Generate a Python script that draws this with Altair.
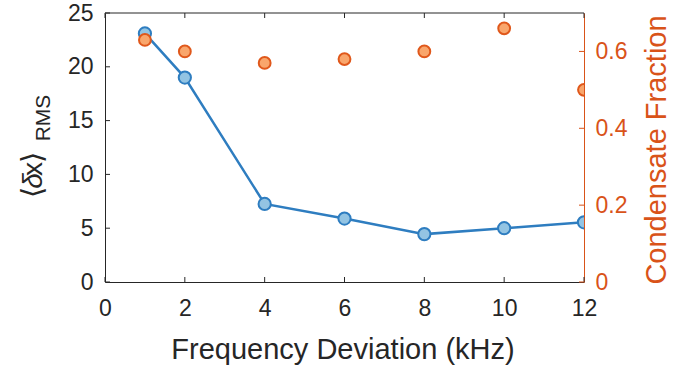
import altair as alt
import pandas as pd

# Measured series
freq_khz = [1, 2, 4, 6, 8, 10, 12]
rms_width = [23.1, 19.0, 7.25, 5.9, 4.45, 5.0, 5.55]
condensate_fraction = [0.63, 0.60, 0.57, 0.58, 0.60, 0.66, 0.50]

# Axis tick values
x_ticks = [0, 2, 4, 6, 8, 10, 12]
left_ticks = [0, 5, 10, 15, 20, 25]
right_ticks = [0, 0.2, 0.4, 0.6]

W, H = 479, 269
INK = "#262626"
BLUE = "#2E7DC0"
BLUE_FILL = "#93C4E3"
ORANGE = "#D95319"
ORANGE_STROKE = "#E0581B"
ORANGE_FILL = "#F9A66C"
FONT = "Liberation Sans"
TICK_LEN = 5

df = pd.DataFrame({"freq": freq_khz, "rms": rms_width, "cf": condensate_fraction})
xt = pd.DataFrame({"freq": x_ticks})
lt = pd.DataFrame({"v": left_ticks})
rt = pd.DataFrame({"v": right_ticks})
one = pd.DataFrame({"k": [0]})

x_scale = alt.Scale(domain=[0, 12], nice=False, zero=False)
yl_scale = alt.Scale(domain=[0, 25], nice=False)
yr_scale = alt.Scale(domain=[0, 0.7], nice=False)

x_axis = alt.Axis(
    values=x_ticks, title=None, tickSize=0, labelPadding=15,
    grid=False, domainColor=INK, labelColor=INK,
    labelFontSize=23, labelFont=FONT, labelFlush=False,
)
left_axis = alt.Axis(
    values=left_ticks, title=None, tickSize=0, labelPadding=12,
    grid=False, domainColor=INK, labelColor=INK,
    labelFontSize=23, labelFont=FONT,
)
right_axis = alt.Axis(
    orient="right", values=right_ticks, title=None, tickSize=0,
    labelPadding=11, grid=False, domainColor=ORANGE,
    labelColor=ORANGE, labelFontSize=23, labelFont=FONT, format=".1~f",
)

# Every layer shares one x axis definition so the axis merges cleanly
X = alt.X("freq:Q", scale=x_scale, axis=x_axis)

# RMS displacement: line with circle markers on the left scale
rms_line = alt.Chart(df).mark_line(color=BLUE, strokeWidth=2.5, clip=True).encode(
    x=X, y=alt.Y("rms:Q", scale=yl_scale, axis=left_axis)
)
rms_pts = alt.Chart(df).mark_point(
    shape="circle", filled=True, fill=BLUE_FILL, stroke=BLUE, strokeWidth=2,
    size=150, opacity=1, clip=True,
).encode(x=X, y=alt.Y("rms:Q", scale=yl_scale, axis=None))

# Condensate fraction on the right scale
cf_pts = alt.Chart(df).mark_point(
    shape="circle", filled=True, fill=ORANGE_FILL, stroke=ORANGE_STROKE,
    strokeWidth=2, size=140, opacity=1, clip=True,
).encode(x=X, y=alt.Y("cf:Q", scale=yr_scale, axis=right_axis))

# Inward tick marks and the top edge of the box
bottom_ticks = alt.Chart(xt).mark_rule(color=INK, strokeWidth=1).encode(
    x=X, y=alt.value(H), y2=alt.value(H - TICK_LEN)
)
top_ticks = alt.Chart(xt).mark_rule(color=INK, strokeWidth=1).encode(
    x=X, y=alt.value(0), y2=alt.value(TICK_LEN)
)
top_edge = alt.Chart(one).mark_rule(color=INK, strokeWidth=1).encode(
    x=alt.value(0), x2=alt.value(W), y=alt.value(0)
)
left_tick_marks = alt.Chart(lt).mark_rule(color=INK, strokeWidth=1).encode(
    y=alt.Y("v:Q", scale=yl_scale, axis=None), x=alt.value(0), x2=alt.value(TICK_LEN)
)
right_tick_marks = alt.Chart(rt).mark_rule(color=ORANGE, strokeWidth=1).encode(
    y=alt.Y("v:Q", scale=yr_scale, axis=None), x=alt.value(W - TICK_LEN), x2=alt.value(W)
)


def label(text, x, y, size, color=INK, angle=0, style="normal"):
    return alt.Chart(one).mark_text(
        text=text, font=FONT, fontSize=size, color=color, angle=angle,
        align="center", baseline="alphabetic", fontStyle=style,
    ).encode(x=alt.value(x), y=alt.value(y))


x_title = label("Frequency Deviation (kHz)", 238, 346, 29)

# Left title: <δx> with RMS subscript, rotated
lt_open = label("⟨", -63, 179.5, 29, angle=270)
lt_delta = label("δ", -63, 168, 28, angle=270, style="italic")
lt_x = label("x", -63, 156, 28, angle=270)
lt_close = label("⟩", -63, 144.5, 29, angle=270)
lt_sub = label("RMS", -55, 105, 21, angle=270)

right_title = label("Condensate Fraction", 561, 137, 29, color=ORANGE, angle=270)

chart = (
    alt.layer(
        rms_line, rms_pts, cf_pts,
        bottom_ticks, top_ticks, top_edge, left_tick_marks, right_tick_marks,
        x_title, lt_open, lt_delta, lt_x, lt_close, lt_sub, right_title,
    )
    .resolve_scale(y="independent")
    .properties(
        width=W, height=H,
        padding={"left": 105, "top": 13, "right": 89, "bottom": 88},
        autosize=alt.AutoSizeParams(type="none"),
        background="white",
    )
    .configure_view(stroke=None)
)

chart.save("out.html", embed_options={"renderer": "svg", "actions": False})
